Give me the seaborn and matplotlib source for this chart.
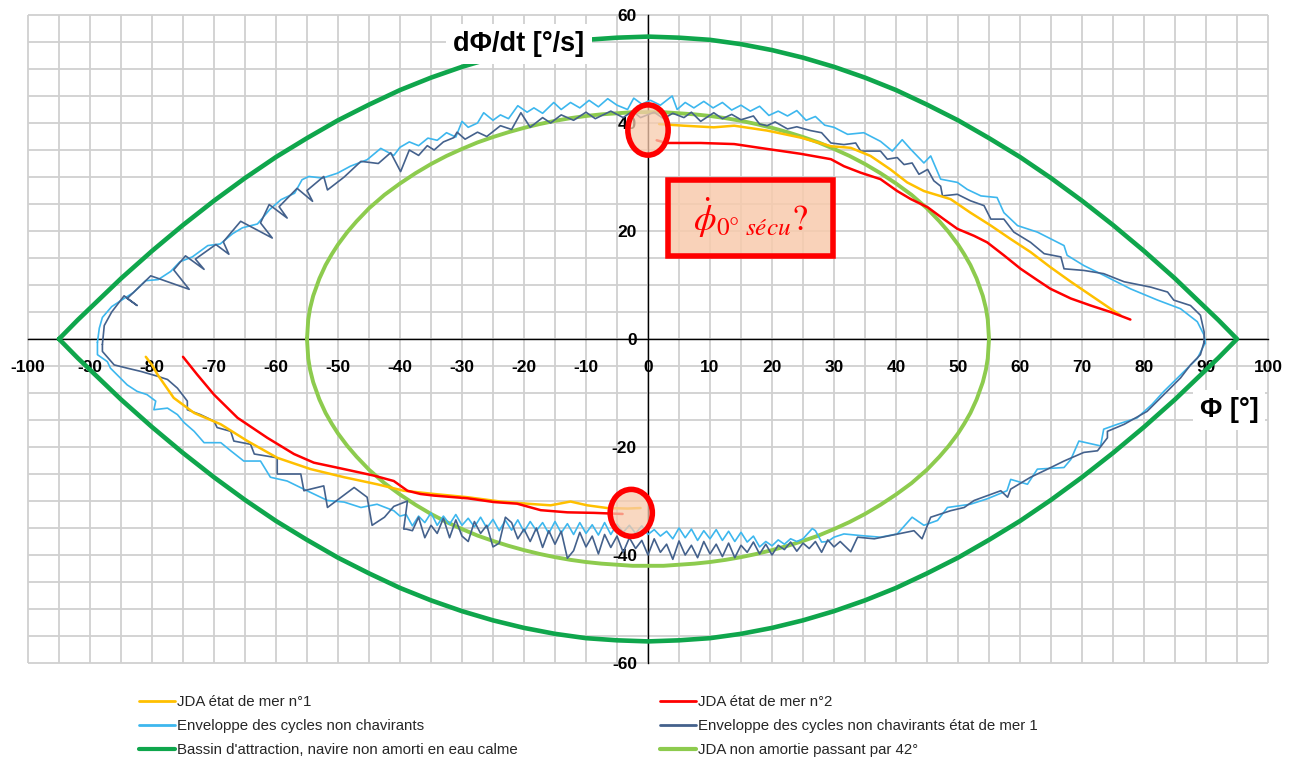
import matplotlib
matplotlib.use("Agg")
import matplotlib.pyplot as plt
from matplotlib.lines import Line2D
from matplotlib.patches import Ellipse, Rectangle
from matplotlib import font_manager
import seaborn as sns
import numpy as np

# ---------------- data ----------------
# Bassin d'attraction (closed loop: upper half left->right, lower half right->left)
bassin_x = [-95, -92, -90, -85, -80, -75, -70, -65, -60, -55, -50, -45, -40, -35, -30, -25, -20, -15, -10, -5, 0,
            5, 10, 15, 20, 25, 30, 35, 40, 45, 50, 55, 60, 65, 70, 75, 80, 85, 90, 92, 95,
            92, 90, 85, 80, 75, 70, 65, 60, 55, 50, 45, 40, 35, 30, 25, 20, 15, 10, 5, 0,
            -5, -10, -15, -20, -25, -30, -35, -40, -45, -50, -55, -60, -65, -70, -75, -80, -85, -90, -92, -95]
bassin_y = [0, 3.5, 5.7, 11.2, 16.3, 21.1, 25.6, 29.8, 33.7, 37.2, 40.5, 43.4, 46.1, 48.4, 50.4, 52.1, 53.5, 54.6, 55.4, 55.8, 56,
            55.8, 55.4, 54.6, 53.5, 52.1, 50.4, 48.4, 46.1, 43.4, 40.5, 37.2, 33.7, 29.8, 25.6, 21.1, 16.3, 11.2, 5.7, 3.5, 0,
            -3.5, -5.7, -11.2, -16.3, -21.1, -25.6, -29.8, -33.7, -37.2, -40.5, -43.4, -46.1, -48.4, -50.4, -52.1, -53.5, -54.6, -55.4, -55.8, -56,
            -55.8, -55.4, -54.6, -53.5, -52.1, -50.4, -48.4, -46.1, -43.4, -40.5, -37.2, -33.7, -29.8, -25.6, -21.1, -16.3, -11.2, -5.7, -3.5, 0]

# JDA non amortie passant par 42° (closed loop)
jda42_x = [-55, -54.8, -54.5, -54, -53, -52, -51, -50, -48.5, -47, -45, -42.5, -40, -37.5, -35, -32.5, -30, -27.5, -25,
           -22.5, -20, -17.5, -15, -12.5, -10, -7.5, -5, -2.5, 0, 2.5, 5, 7.5, 10, 12.5, 15, 17.5, 20, 22.5, 25, 27.5,
           30, 32.5, 35, 37.5, 40, 42.5, 45, 47, 48.5, 50, 51, 52, 53, 54, 54.5, 54.8, 55,
           54.8, 54.5, 54, 53, 52, 51, 50, 48.5, 47, 45, 42.5, 40, 37.5, 35, 32.5, 30, 27.5, 25, 22.5, 20, 17.5, 15,
           12.5, 10, 7.5, 5, 2.5, 0, -2.5, -5, -7.5, -10, -12.5, -15, -17.5, -20, -22.5, -25, -27.5, -30, -32.5, -35,
           -37.5, -40, -42.5, -45, -47, -48.5, -50, -51, -52, -53, -54, -54.5, -54.8, -55]
jda42_y = [0, 3.6, 5.7, 8.0, 11.2, 13.7, 15.7, 17.5, 19.8, 21.8, 24.2, 26.7, 28.8, 30.7, 32.4, 33.9, 35.2, 36.4, 37.4,
           38.3, 39.1, 39.8, 40.4, 40.9, 41.3, 41.6, 41.8, 42.0, 42, 42.0, 41.8, 41.6, 41.3, 40.9, 40.4, 39.8, 39.1, 38.3, 37.4, 36.4,
           35.2, 33.9, 32.4, 30.7, 28.8, 26.7, 24.2, 21.8, 19.8, 17.5, 15.7, 13.7, 11.2, 8.0, 5.7, 3.6, 0,
           -3.6, -5.7, -8.0, -11.2, -13.7, -15.7, -17.5, -19.8, -21.8, -24.2, -26.7, -28.8, -30.7, -32.4, -33.9, -35.2, -36.4, -37.4, -38.3, -39.1, -39.8, -40.4,
           -40.9, -41.3, -41.6, -41.8, -42.0, -42, -42.0, -41.8, -41.6, -41.3, -40.9, -40.4, -39.8, -39.1, -38.3, -37.4, -36.4, -35.2, -33.9, -32.4,
           -30.7, -28.8, -26.7, -24.2, -21.8, -19.8, -17.5, -15.7, -13.7, -11.2, -8.0, -5.7, -3.6, 0]

# Enveloppe des cycles non chavirants (light blue): six pieces of one closed loop
env_ul_x = [-88.8, -88.5, -88, -86.5, -84.5, -83, -81, -79, -77, -75.5, -73.5, -71, -69, -67, -65.4, -63, -61, -59.2,
            -57, -55.8, -54.7, -52.5, -50.1, -48, -45.3, -43.1, -41]
env_ul_y = [-0.6, 2, 4, 6, 7.5, 8.6, 10.8, 11, 12.5, 14.3, 15.2, 17.3, 17.6, 19.5, 20.6, 21.3, 24, 25.8,
            27, 29.5, 30.1, 29.8, 30.7, 32, 33.2, 35.3, 34]
env_um_x = [-40, -38.5, -37, -35.5, -34, -32.5, -31, -30, -29, -27.5, -26.5, -25, -23.8, -22.5, -21, -19.5, -18.4, -17,
            -15.2, -14, -12.5, -11, -9.5, -8, -6.5, -5, -3.3, -2.3, -1, 0.4, 2, 3.9, 4.7, 6, 7.4, 9, 10.5, 12, 13.5, 15,
            16.5, 18, 19.5, 21, 22.5, 24, 25.5, 27, 28.5, 30]
env_um_y = [35.5, 36.5, 35.8, 37.2, 36.8, 38.2, 37.4, 40.3, 39.2, 40, 41.9, 40.5, 41.5, 40.8, 43.2, 42, 42.8, 41.8,
            43.8, 42.5, 43.8, 42.8, 44.2, 43, 44.5, 43.3, 42.5, 44.6, 43.5, 44.2, 43.3, 45, 42.5, 43.8, 42.8, 44, 42.8, 43.8, 42.4, 43.3,
            42.2, 43.1, 41.4, 42.2, 41.3, 42.3, 40.5, 41.2, 39.6, 39.2]
env_ur_x = [32.2, 34.8, 37.5, 39.4, 41, 42.4, 44.5, 45.6, 47.2, 49.9, 51.5, 53.7, 56.3, 57.4, 59.6, 62.8, 67.1, 67.6,
            70.3, 73.5, 77.8, 82.2, 85.9, 88.6, 89.7, 89.9]
env_ur_y = [37.9, 38.2, 36.6, 34.8, 36.9, 35.1, 32.6, 33.9, 29.6, 29, 27.7, 26.5, 26.2, 23.4, 21, 19.8, 17.3, 15.5,
            13.6, 11.8, 9.3, 7.2, 5.6, 3.2, 0.7, -0.8]
env_lr_x = [89.7, 88.6, 87, 85.4, 83.2, 81.3, 78.9, 75.7, 73.5, 73, 69.5, 68.2, 67.1, 62.8, 61.2, 58.5, 57.9, 54.7, 52,
            48.3, 46.7, 44.5, 42.6, 40.2, 37.5, 34.3, 31.6]
env_lr_y = [-1.1, -3.6, -5.4, -7.2, -9.7, -12.1, -14.6, -15.8, -16.7, -19.8, -18.9, -22.3, -23.8, -24.1, -26.9, -26, -28.1,
            -29.6, -30.6, -31.2, -33.6, -34.5, -33, -36.1, -36.7, -36.4, -36.1]
env_lm_x = [30, 29, 28, 27, 26.5, 25, 24, 23, 22, 21, 20, 19, 18, 17, 16, 15, 14, 13, 12, 11, 10, 9, 8, 7, 6, 5, 4, 3,
            2, 1, 0, -1, -2, -3, -4, -5, -6, -7, -8, -9, -10, -11, -12, -13, -14, -15, -16, -17, -18, -19, -20, -21,
            -22, -23, -24, -25, -26, -27, -28, -29, -30, -31, -32, -33, -34, -35, -36, -37, -38, -39, -40]
env_lm_y = [-36.7, -37.5, -37.6, -35.5, -35.1, -37, -37.5, -37, -38, -37.2, -38.3, -37.5, -38.5, -36.5, -37.6, -35.8,
            -37.5, -35.6, -37.3, -35.3, -37, -35.5, -37.3, -35.2, -36.8, -35, -37, -35.6, -36.5, -35.3, -36.2, -34.6,
            -36, -34.5, -35.8, -34.3, -36.2, -34, -36.3, -34.4, -36, -34, -36.2, -34.2, -35.9, -33.8, -36, -34, -35.5,
            -33.8, -35.7, -33.5, -35.4, -33.6, -35.5, -33.4, -35, -33, -34.8, -33.2, -34.5, -32.5, -34.3, -32.8, -34.5,
            -32.2, -34, -32.8, -34.6, -32.5, -32.8]
env_ll_x = [-41, -43.7, -46.3, -49, -51.7, -55, -58.2, -60.9, -62.5, -65.2, -67.3, -68.9, -71.6, -73.2, -74.8, -75.9,
            -77.5, -79.7, -79.4, -80.8, -82.4, -84, -86.7, -87.2, -88.8, -88.8]
env_ll_y = [-31.8, -30.6, -31.2, -30.2, -29.9, -28.1, -26.3, -25.6, -22.6, -22.6, -20.7, -19.2, -19.2, -17.1, -15.5,
            -14, -12.8, -13.1, -11.5, -10.3, -9.7, -8.5, -5.4, -4.2, -2.9, -0.6]

# Enveloppe des cycles non chavirants état de mer 1 (dark blue): six pieces of one closed loop
env1_ul_x = [-88, -87.7, -86.5, -84.5, -82.4, -84, -80.2, -74, -76.5, -74.6, -71.6, -73, -69.7, -67.6, -68.5, -65.7,
             -60.6, -62.5, -61.1, -58.2, -59.5, -56.6, -54.1, -55, -52.3, -51.7, -49, -46.3, -43.5, -41.5]
env1_ul_y = [-1, 2.5, 5, 8, 6.2, 7.5, 11.7, 9.2, 12.8, 15.4, 12.9, 14.8, 17.5, 15.7, 18, 21.8,
             18.7, 21.5, 24.9, 22.4, 24.5, 27.9, 25.5, 27.5, 30.1, 27.6, 30, 32.9, 32.5, 34.5]
env1_um_x = [-39.9, -38.5, -37, -35.6, -34.5, -33, -31.3, -30.8, -29.5, -27.5, -26, -23.8, -22, -20.5, -19, -17,
             -15.7, -14, -12, -10, -8.5, -6, -4, -2.5, -1.2, 1, 2.5, 4, 5.8, 7, 8.5, 10.6, 12, 13.5, 15, 17, 18, 19.2,
             20.5, 22.5, 24, 26.2, 28, 29.5]
env1_um_y = [31, 35, 34, 35.8, 35, 36.5, 37.3, 38.3, 37, 38.3, 37.5, 39.5, 38.8, 41.9, 39.2, 41,
             40, 41.5, 40.5, 42, 40.8, 42.2, 41, 42.2, 41, 42, 40.8, 41.8, 41, 42, 40.3, 41.9, 40.8, 41.6, 40.6, 41.3, 39.8, 39.5,
             40.2, 38.9, 39.3, 38.6, 38.2, 36.3]
env1_ur_x = [31.6, 33.5, 34.3, 37.5, 38.6, 40.2, 41.3, 42.6, 43.7, 45.1, 46.1, 47.2, 47.5, 49.9, 52, 54.2, 55.3, 57.4,
             59, 61.7, 63.9, 66.6, 67.1, 70.3, 73.5, 76.8, 81.1, 83.8, 84.8, 87.5, 89.1, 89.7, 89.7]
env1_ur_y = [36, 36.3, 34.8, 34.8, 33.3, 33.6, 32.3, 32.6, 30.5, 31.4, 29.3, 28.3, 26.5, 26.8, 25.6, 24.7, 22.2, 22.2,
             19.8, 17.9, 15.8, 15.2, 13, 12.7, 12.1, 10.6, 9.6, 8.7, 7.2, 6.2, 4.4, 1.3, -0.8]
env1_lr_x = [89.7, 89.1, 87.5, 85.9, 83.2, 80.5, 76.8, 74.1, 74.1, 72.5, 70.3, 67.1, 63.9, 61.7, 58.5, 58, 56.9, 52.6,
             51, 48.8, 45.6, 44.2, 42.9, 39.1, 36.5, 33.8, 32.7, 31]
env1_lr_y = [-0.5, -2.9, -4.8, -7.2, -10.3, -13.4, -15.8, -17.1, -18.3, -20.7, -21, -22.6, -24.4, -25.6, -27.8, -29.3,
             -28.1, -29.9, -31.2, -31.8, -33, -37, -35.5, -36.4, -37, -36.7, -39.4, -37.5]
env1_lm_x = [30, 29, 28, 27, 26, 25, 24, 23, 22, 21, 20, 19, 18, 17, 16, 15, 14, 13, 12, 11, 10, 9, 8, 7, 6, 5, 4, 3,
             2, 1, 0, -1, -2, -3, -4, -5, -6, -7, -8, -9, -10, -11, -12, -13, -14, -15, -16, -17, -18, -19, -20, -21,
             -22, -23, -24, -25, -26, -27, -28, -29, -30, -31, -32, -33, -34, -35, -36, -37, -38, -39]
env1_lm_y = [-38.5, -37.2, -39.5, -37.5, -38.8, -37.8, -39.3, -37.6, -39, -38.2, -40, -38, -39.8, -37.6, -39.5, -38.2,
             -40.5, -37.8, -40.3, -38, -39.8, -37.5, -40.5, -38.2, -40, -37.4, -40.8, -38, -39.5, -37, -40, -37.3,
             -38.8, -36.8, -39.5, -36.5, -38.6, -36.2, -39.8, -36.5, -38.5, -35.8, -39.2, -40.6, -35.6, -38, -35.5,
             -38.6, -35, -37.5, -35.2, -37, -34, -33, -37.8, -38.5, -34.5, -36, -33.8, -37.5, -36.5, -33.5, -36.8,
             -33.2, -36, -34.5, -36.8, -33, -35.5, -35.2]
env1_ll_x = [-39.4, -38.8, -41, -42.5, -44.5, -45.3, -47.4, -51.7, -52.3, -55.5, -56, -59.8, -59.8, -63.5, -64.1, -66.8,
             -67.3, -69.5, -70, -72.2, -74.3, -74.3, -75.9, -77.5, -79.1, -81.8, -84, -86.1, -88, -88]
env1_ll_y = [-35.2, -30, -31, -33, -34.5, -29.3, -27.5, -31.2, -27.2, -28.1, -25, -25, -22, -21.3, -19.5, -18.9,
             -17.1, -16.4, -15.2, -14, -13.1, -11.5, -9.1, -7.5, -6.9, -6, -5.4, -4.8, -2.3, -1]

# JDA état de mer n°1 (yellow), two branches
jda1_up_x = [1.8, 5.8, 10.6, 13.9, 19.2, 24.6, 29.5, 32.7, 35.9, 39.1, 41.8, 44.5, 48.8, 52, 55.3, 58.5, 61.7, 64.9, 68.2, 71.4, 74.6, 76.2]
jda1_up_y = [39.8, 39.5, 39.2, 39.5, 38.6, 37.3, 35.7, 35.4, 33.9, 31.4, 29, 27.4, 25.9, 23.4, 21, 18.5, 16.1, 13.3, 10.6, 8.1, 5.6, 4.4]
jda1_lo_x = [-81, -80, -79.1, -76.5, -73.2, -68.9, -64.6, -59.8, -54.4, -49, -43.7, -39.4, -34.5, -29.1, -23.8, -19.5, -15.7, -12.5, -9.8, -6.6, -3.3, -1.2]
jda1_lo_y = [-3.3, -4.8, -6.6, -10.9, -13.7, -15.8, -18.9, -22, -24.1, -25.6, -26.9, -28.1, -28.7, -29.3, -30.1, -30.5, -30.8, -30.1, -30.8, -31.3, -31.4, -31.3]

# JDA état de mer n°2 (red), two branches
jda2_up_x = [1.4, 3, 8.5, 13.9, 19.2, 24.6, 29.5, 31.6, 34.3, 37.5, 40.2, 42.4, 45.1, 47.7, 49.9, 52.6, 54.7, 57.4, 60.1, 62.8, 64.9, 68.2, 71.4, 74.6, 77.8]
jda2_up_y = [36.8, 36.3, 36.3, 36.1, 35.2, 34.3, 33.3, 32, 30.8, 29.6, 27.4, 25.9, 24.4, 22.2, 20.4, 19.1, 17.9, 15.5, 13, 10.9, 9.3, 7.5, 6.2, 5, 3.6]
jda2_lo_x = [-75, -72.7, -70, -66.2, -61.4, -57.1, -53.9, -49, -44.2, -41, -38.8, -36.7, -34.5, -29.1, -24.8, -21.1, -17.3, -13, -8.7, -4.1]
jda2_lo_y = [-3.3, -6.6, -10.3, -14.6, -18.3, -21.3, -22.9, -24.1, -25.3, -26.3, -28.1, -28.7, -29, -29.5, -30.2, -30.5, -31.7, -32.1, -32.2, -32.4]

x_ticks = [-100, -90, -80, -70, -60, -50, -40, -30, -20, -10, 0, 10, 20, 30, 40, 50, 60, 70, 80, 90, 100]
y_ticks = [-60, -40, -20, 0, 20, 40, 60]

labels = ["JDA état de mer n°1", "JDA état de mer n°2",
          "Enveloppe des cycles non chavirants", "Enveloppe des cycles non chavirants état de mer 1",
          "Bassin d'attraction, navire non amorti en eau calme", "JDA non amortie passant par 42°"]

# annotation markers (circles and box)
circle_centers = [(0.0, 38.7), (-2.7, -32.2)]
circle_sizes = [(6.5, 9.3), (6.8, 8.7)]
box_corner = (3.2, 15.4)
box_size = (26.6, 14.0)

# ---------------- style ----------------
sns.set_style("white")
avail = {f.name for f in font_manager.fontManager.ttflist}
narrow = "Liberation Sans Narrow" if "Liberation Sans Narrow" in avail else "Liberation Sans"
plt.rcParams["font.family"] = [narrow, "DejaVu Sans"]
plt.rcParams["mathtext.fontset"] = "stix"

C_YEL = "#FFC000"
C_RED = "#FF0000"
C_LBLUE = "#3DB7EE"
C_DBLUE = "#44618C"
C_DGREEN = "#0FA64C"
C_LGREEN = "#8DCB4E"
C_SALMON = "#F8CBAD"
C_GRID = "#D0D0D0"

fig = plt.figure(figsize=(12.96, 7.62), dpi=100)
ax = fig.add_axes([28 / 1296, 1 - 663 / 762, 1240 / 1296, 648 / 762])

ax.set_xlim(-100, 100)
ax.set_ylim(-60, 60)
ax.grid(False)

# grid every 5 units, drawn below the axis labels
grid_x = np.arange(-100, 101, 5)
grid_y = np.arange(-60, 61, 5)
ax.vlines(grid_x, -60, 60, colors=C_GRID, lw=1.3, zorder=0.1, clip_on=False)
ax.hlines(grid_y, -100, 100, colors=C_GRID, lw=1.3, zorder=0.1, clip_on=False)
ax.set_axisbelow(True)


def loop(*parts):
    xs, ys = [], []
    for px, py in parts:
        xs += list(px)
        ys += list(py)
    return xs, ys


env_x, env_y = loop((env_ul_x, env_ul_y), (env_um_x, env_um_y), (env_ur_x, env_ur_y),
                    (env_lr_x, env_lr_y), (env_lm_x, env_lm_y), (env_ll_x, env_ll_y))
env1_x, env1_y = loop((env1_ul_x, env1_ul_y), (env1_um_x, env1_um_y), (env1_ur_x, env1_ur_y),
                      (env1_lr_x, env1_lr_y), (env1_lm_x, env1_lm_y), (env1_ll_x, env1_ll_y))

# data lines
sns.lineplot(x=bassin_x, y=bassin_y, sort=False, estimator=None, color=C_DGREEN, lw=3.3, ax=ax, zorder=3)
sns.lineplot(x=jda42_x, y=jda42_y, sort=False, estimator=None, color=C_LGREEN, lw=2.8, ax=ax, zorder=3)
sns.lineplot(x=env_x, y=env_y, sort=False, estimator=None, color=C_LBLUE, lw=1.2, ax=ax, zorder=4)
sns.lineplot(x=env1_x, y=env1_y, sort=False, estimator=None, color=C_DBLUE, lw=1.2, ax=ax, zorder=4)
sns.lineplot(x=jda1_up_x, y=jda1_up_y, sort=False, estimator=None, color=C_YEL, lw=1.8, ax=ax, zorder=5)
sns.lineplot(x=jda1_lo_x, y=jda1_lo_y, sort=False, estimator=None, color=C_YEL, lw=1.8, ax=ax, zorder=5)
sns.lineplot(x=jda2_up_x, y=jda2_up_y, sort=False, estimator=None, color=C_RED, lw=1.8, ax=ax, zorder=5)
sns.lineplot(x=jda2_lo_x, y=jda2_lo_y, sort=False, estimator=None, color=C_RED, lw=1.8, ax=ax, zorder=5)
ax.set_xlim(-100, 100)
ax.set_ylim(-60, 60)

# spines through origin
for s in ["top", "right"]:
    ax.spines[s].set_visible(False)
ax.spines["left"].set_position(("data", 0))
ax.spines["bottom"].set_position(("data", 0))
for s in ["left", "bottom"]:
    ax.spines[s].set_color("black")
    ax.spines[s].set_linewidth(1.0)
    ax.spines[s].set_zorder(2)

ax.set_xticks(x_ticks)
ax.set_yticks(y_ticks)
ax.set_xticklabels([str(v) for v in x_ticks])
ax.set_yticklabels([str(v) for v in y_ticks])
ax.tick_params(axis="x", which="major", direction="out", length=5, width=1, color="black",
               pad=10, labelsize=12.5, labelcolor="black")
ax.tick_params(axis="y", which="major", direction="out", length=5, width=1, color="black",
               pad=3, labelsize=12.5, labelcolor="black")
for lab in ax.get_xticklabels() + ax.get_yticklabels():
    lab.set_fontweight("bold")
    lab.set_fontfamily(["Liberation Sans", "DejaVu Sans"])
ax.set_xlabel("")
ax.set_ylabel("")

# axis titles
ax.text(-20.8, 54.6, "dΦ/dt [°/s]", fontsize=19.5, fontweight="bold", ha="center", va="center",
        color="black", family=["Liberation Sans", "DejaVu Sans"],
        bbox=dict(facecolor="white", edgecolor="none", pad=5), zorder=6)
ax.text(93.7, -13.1, "Φ [°]", fontsize=19.5, fontweight="bold", ha="center", va="center",
        color="black", family=["Liberation Sans", "DejaVu Sans"],
        bbox=dict(facecolor="white", edgecolor="none", pad=5), zorder=6)

# annotations
for (cx, cy), (w, h) in zip(circle_centers, circle_sizes):
    ax.add_patch(Ellipse((cx, cy), w, h, facecolor=C_SALMON, alpha=0.75, edgecolor="none", zorder=7))
    ax.add_patch(Ellipse((cx, cy), w, h, facecolor="none", edgecolor=C_RED, lw=4, zorder=8))
ax.add_patch(Rectangle(box_corner, box_size[0], box_size[1], facecolor=C_SALMON, alpha=0.85,
                       edgecolor="none", zorder=7))
ax.add_patch(Rectangle(box_corner, box_size[0], box_size[1], facecolor="none",
                       edgecolor=C_RED, lw=4, zorder=8))
ax.text(box_corner[0] + box_size[0] / 2, box_corner[1] + box_size[1] / 2,
        r"$\dot{\phi}_{0°\ sécu}?$", color=C_RED, fontsize=26, ha="center", va="center", zorder=9)

# legends
handles = [Line2D([], [], color=C_YEL, lw=2), Line2D([], [], color=C_RED, lw=2),
           Line2D([], [], color=C_LBLUE, lw=2), Line2D([], [], color=C_DBLUE, lw=2),
           Line2D([], [], color=C_DGREEN, lw=3), Line2D([], [], color=C_LGREEN, lw=3)]
leg_kw = dict(loc="upper left", frameon=False, fontsize=10.8, handlelength=2.4, handletextpad=0.15,
              labelspacing=0.68, borderaxespad=0, borderpad=0)
fig.legend([handles[0], handles[2], handles[4]], [labels[0], labels[2], labels[4]],
           bbox_to_anchor=(139 / 1296, 1 - 695 / 762), **leg_kw)
fig.legend([handles[1], handles[3], handles[5]], [labels[1], labels[3], labels[5]],
           bbox_to_anchor=(660 / 1296, 1 - 695 / 762), **leg_kw)

fig.savefig("out.png", dpi=100)
